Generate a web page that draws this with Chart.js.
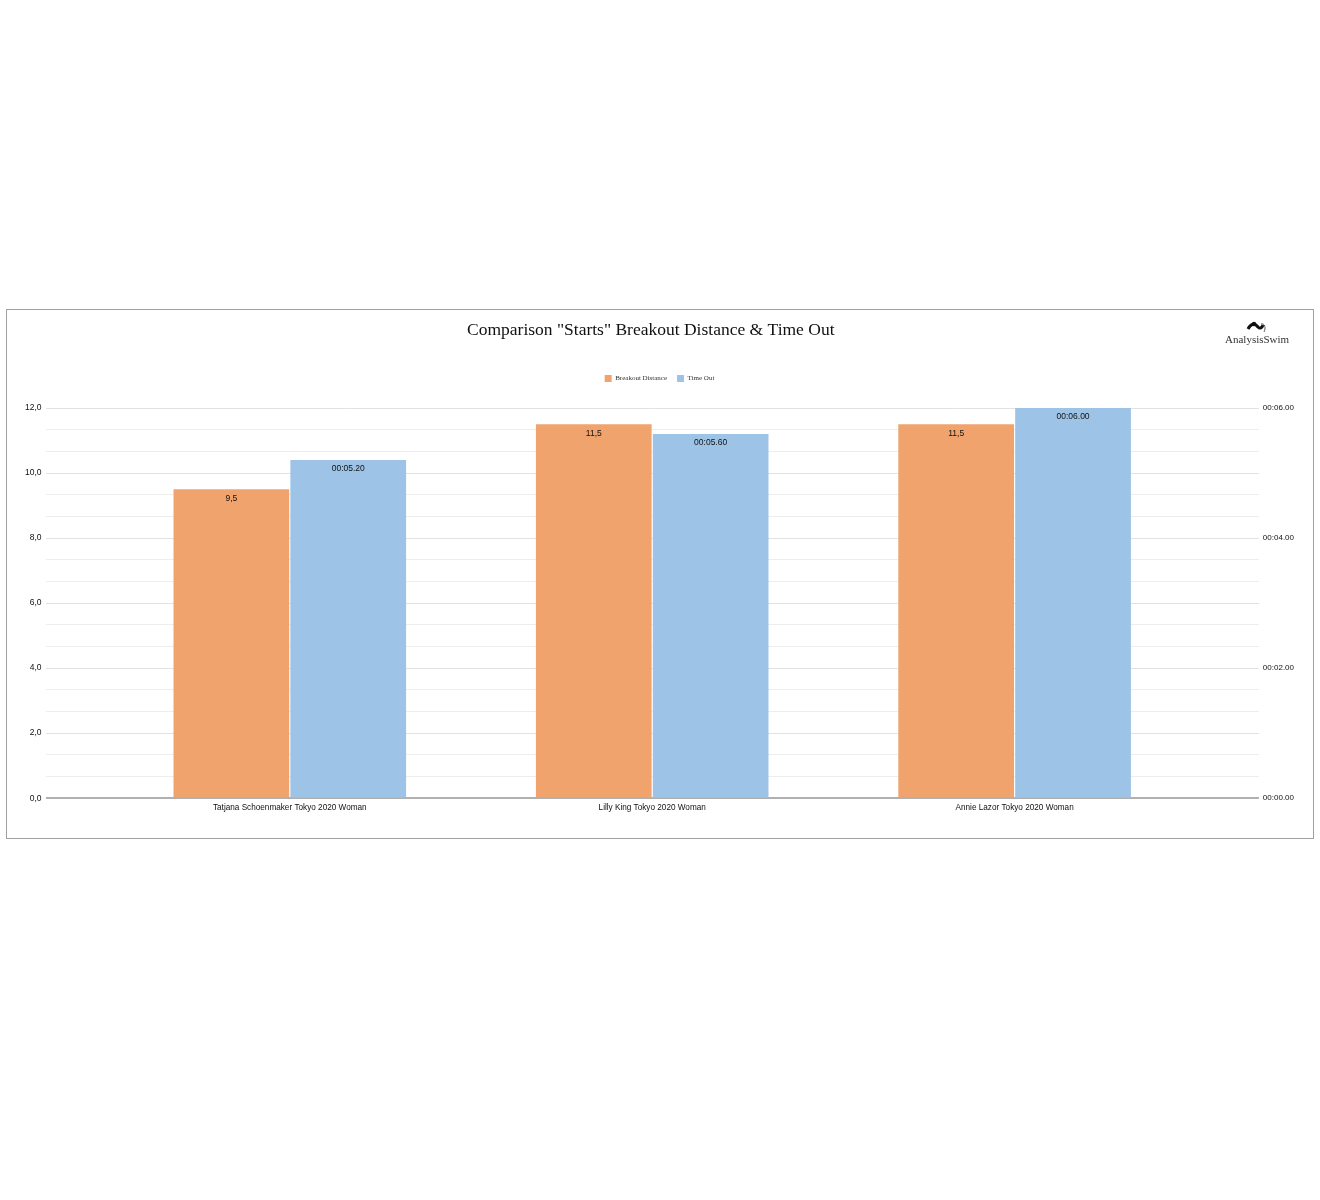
<!DOCTYPE html>
<html lang="en">
<head>
    <meta charset="UTF-8">
    <title>Comparison Starts</title>
    <style>
        body {
            margin: 0;
            padding: 0;
            background-color: #fff;
            font-family: "Liberation Sans", Arial, sans-serif;
        }
        .chart-box {
            position: absolute;
            left: 6px;
            top: 309px;
            width: 1306px;
            height: 528px;
            border: 1px solid #a0a0a0;
        }
        .logo {
            position: absolute;
            left: 1218px;
            top: 10px;
            width: 64px;
            font-family: "Liberation Serif", "Times New Roman", serif;
            font-size: 11px;
            color: #333;
            text-align: center;
            line-height: 11px;
        }
        .logo svg {
            display: block;
            margin: 0 auto 0 auto;
        }
    </style>
</head>
<body>
    <div class="chart-box">
        <canvas id="startsChart" width="1306" height="528"></canvas>
        <div class="logo">
            <svg width="22" height="14" viewBox="0 0 22 14">
                <path d="M2 9 C5 3, 9 3, 12 7 C14 9, 16 8, 17 5" stroke="#111" stroke-width="3" fill="none"/>
                <circle cx="8" cy="4" r="2.2" fill="#111"/>
                <path d="M15 4 C19 3, 20 8, 18 12" stroke="#555" stroke-width="1" fill="none"/>
            </svg>
            AnalysisSwim
        </div>
    </div>

    <script src="https://cdn.jsdelivr.net/npm/chart.js"></script>
<script>
    // swimmers (x categories)
    const swimmers = [
        'Tatjana Schoenmaker Tokyo 2020 Woman',
        'Lilly King Tokyo 2020 Woman',
        'Annie Lazor Tokyo 2020 Woman'
    ];
    // breakout distance in metres (left axis)
    const breakoutDistance = [9.5, 11.5, 11.5];
    // time out in seconds (right axis)
    const timeOut = [5.2, 5.6, 6.0];

    const leftTicks = [0, 2, 4, 6, 8, 10, 12];
    const rightTicks = [0, 2, 4, 6];

    const orange = '#F0A36C';
    const blue = '#9DC3E6';
    const sans = '"Liberation Sans", Arial, sans-serif';
    const serif = '"Liberation Serif", "Times New Roman", serif';

    function fmtDistance(v) {
        return v.toFixed(1).replace('.', ',');
    }

    function fmtTime(sec) {
        const s = sec.toFixed(2);
        return '00:' + (sec < 10 ? '0' : '') + s;
    }

    function isMajor(v) {
        return leftTicks.some(t => Math.abs(t - v) < 1e-6);
    }

    // labels drawn inside the top of each bar
    const barLabels = {
        id: 'barLabels',
        afterDatasetsDraw(chart) {
            const ctx = chart.ctx;
            ctx.save();
            ctx.font = '8.5px ' + sans;
            ctx.fillStyle = '#111';
            ctx.textAlign = 'center';
            ctx.textBaseline = 'middle';
            chart.data.datasets.forEach((ds, i) => {
                const meta = chart.getDatasetMeta(i);
                meta.data.forEach((bar, j) => {
                    const v = ds.data[j].y;
                    const txt = i === 0 ? String(v).replace('.', ',') : fmtTime(v);
                    ctx.fillText(txt, bar.x, bar.y + 9);
                });
            });
            ctx.restore();
        }
    };

    // extra room under the legend
    const legendGap = {
        id: 'legendGap',
        beforeInit(chart) {
            const fit = chart.legend.fit;
            chart.legend.fit = function () {
                fit.bind(chart.legend)();
                this.height += 16;
            };
        }
    };

    const ctx = document.getElementById('startsChart').getContext('2d');
    new Chart(ctx, {
        type: 'bar',
        data: {
            datasets: [{
                label: 'Breakout Distance',
                data: breakoutDistance.map((v, i) => ({ x: i, y: v })),
                backgroundColor: orange,
                yAxisID: 'y',
                categoryPercentage: 0.645,
                barPercentage: 0.99
            }, {
                label: 'Time Out',
                data: timeOut.map((v, i) => ({ x: i, y: v })),
                backgroundColor: blue,
                yAxisID: 'y1',
                categoryPercentage: 0.645,
                barPercentage: 0.99
            }]
        },
        options: {
            responsive: false,
            animation: false,
            layout: {
                padding: { left: 14, right: 15, top: 0, bottom: 20 }
            },
            plugins: {
                title: {
                    display: true,
                    text: 'Comparison "Starts" Breakout Distance & Time Out    ',
                    color: '#111',
                    font: { family: serif, size: 17.5, weight: 'normal' },
                    padding: { top: 10, bottom: 24 }
                },
                legend: {
                    display: true,
                    labels: {
                        boxWidth: 7,
                        boxHeight: 7,
                        padding: 10,
                        color: '#333',
                        font: { family: serif, size: 7 }
                    }
                },
                tooltip: { enabled: false }
            },
            scales: {
                x: {
                    type: 'linear',
                    offset: false,
                    min: -0.674,
                    max: swimmers.length - 1 + 0.674,
                    afterBuildTicks(axis) {
                        axis.ticks = swimmers.map((s, i) => ({ value: i }));
                    },
                    grid: { display: false, drawTicks: false },
                    border: { display: false },
                    ticks: {
                        autoSkip: false,
                        maxRotation: 0,
                        color: '#111',
                        font: { size: 8.2, family: sans },
                        padding: 5,
                        callback: v => swimmers[v]
                    }
                },
                y: {
                    position: 'left',
                    min: 0,
                    max: 12,
                    afterBuildTicks(axis) {
                        const t = [];
                        for (let k = 0; k < leftTicks.length - 1; k++) {
                            const a = leftTicks[k], b = leftTicks[k + 1];
                            t.push({ value: a }, { value: a + (b - a) / 3 }, { value: a + 2 * (b - a) / 3 });
                        }
                        t.push({ value: leftTicks[leftTicks.length - 1] });
                        axis.ticks = t;
                    },
                    grid: {
                        drawTicks: false,
                        lineWidth: c => c.tick && c.tick.value === 0 ? 2 : 1,
                        color: c => c.tick && c.tick.value === 0 ? '#b0b0b0' : (isMajor(c.tick.value) ? '#e2e2e2' : '#ededed')
                    },
                    border: { display: false },
                    ticks: {
                        autoSkip: false,
                        padding: 4,
                        color: '#111',
                        font: { size: 8.5, family: sans },
                        callback: v => isMajor(v) ? fmtDistance(v) : ''
                    }
                },
                y1: {
                    position: 'right',
                    min: 0,
                    max: 6,
                    afterBuildTicks(axis) {
                        axis.ticks = rightTicks.map(v => ({ value: v }));
                    },
                    grid: { drawOnChartArea: false, drawTicks: false },
                    border: { display: false },
                    ticks: {
                        padding: 4,
                        color: '#111',
                        font: { size: 8, family: sans },
                        callback: v => fmtTime(v)
                    }
                }
            }
        },
        plugins: [barLabels, legendGap]
    });
</script>
</body>
</html>
